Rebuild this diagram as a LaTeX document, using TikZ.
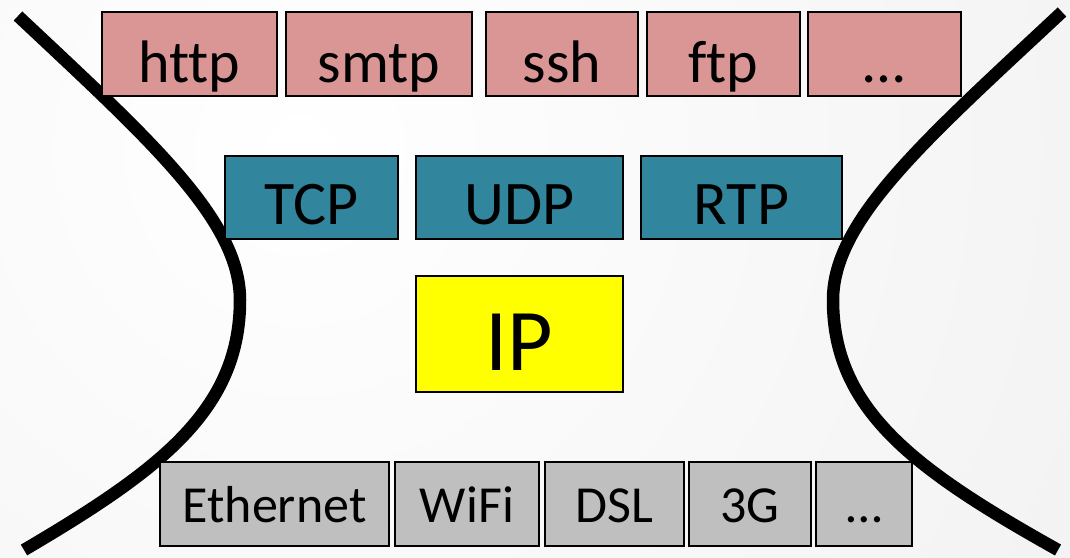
\documentclass[tikz,border=0pt]{standalone}
\usepackage{fontspec}
\setmainfont{Carlito}[Ligatures=NoCommon]
\definecolor{apppink}{HTML}{D99694}
\definecolor{tpteal}{HTML}{31859C}
\definecolor{ipyellow}{HTML}{FFFF00}
\definecolor{linkgray}{HTML}{BFBFBF}
\tikzset{
  layerbox/.style={draw=black, line width=1.8pt, rectangle, inner sep=0pt, text depth=0pt},
  appbox/.style={layerbox, fill=apppink, minimum height=84pt, text height=56pt, font=\fontsize{60}{62}\selectfont},
  tpbox/.style={layerbox, fill=tpteal, minimum height=83pt, text height=54pt, font=\fontsize{62}{64}\selectfont},
  ipbox/.style={layerbox, fill=ipyellow, minimum height=116pt, minimum width=207pt, text height=72pt, font=\fontsize{88}{90}\selectfont},
  linkbox/.style={layerbox, fill=linkgray, minimum height=84pt, text height=36pt, font=\fontsize{52}{54}\selectfont},
  waist/.style={draw=black, line width=12.5pt}
}
\begin{document}
\begin{tikzpicture}[x=1pt, y=-1pt]
\useasboundingbox (0,0) rectangle (1070,557);
\begin{scope}
  \clip (0,0) rectangle (1070,557);
  \shade[inner color=white, outer color=black!10] (300,150) circle (1800);
\end{scope}
% waist curves
\draw[waist] (18,16) .. controls (150,140) and (240,220) .. (240,300)
                     .. controls (240,410) and (160,470) .. (24,550);
\draw[waist] (1062,12) .. controls (925,140) and (833,220) .. (833,300)
                       .. controls (833,410) and (915,470) .. (1058,550);
% application layer
\node[appbox, minimum width=175pt] (http) at (189.5,54) {http};
\node[appbox, minimum width=186pt] (smtp) at (379,54) {smtp};
\node[appbox, minimum width=152pt] (ssh) at (562,54) {ssh};
\node[appbox, minimum width=153pt] (ftp) at (723.5,54) {ftp};
\node[appbox, minimum width=153pt] (appmore) at (884.5,54) {…};
% transport layer
\node[tpbox, minimum width=173pt] (tcp) at (311.5,197.5) {TCP};
\node[tpbox, minimum width=207pt] (udp) at (519.5,197.5) {UDP};
\node[tpbox, minimum width=201pt] (rtp) at (741.5,197.5) {RTP};
% network layer
\node[ipbox] (ip) at (519.5,334) {IP};
% link layer
\node[linkbox, minimum width=229pt] (eth) at (274.5,504) {Ethernet};
\node[linkbox, minimum width=144pt] (wifi) at (467,504) {WiFi};
\node[linkbox, minimum width=139pt] (dsl) at (614.5,504) {DSL};
\node[linkbox, minimum width=122pt] (g3) at (750,504) {3G};
\node[linkbox, minimum width=96pt] (linkmore) at (864,504) {…};
\end{tikzpicture}
\end{document}
